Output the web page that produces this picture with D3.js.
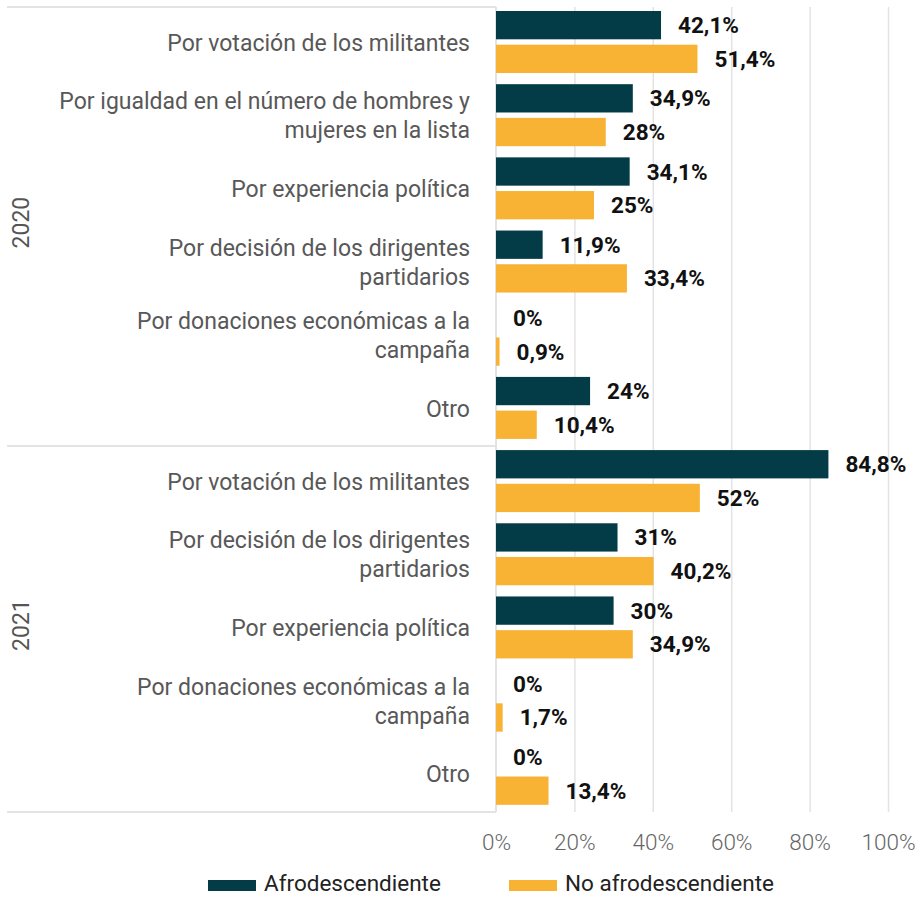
<!DOCTYPE html>
<html>
<head>
<meta charset="utf-8">
<script src="https://cdn.jsdelivr.net/npm/d3@7"></script>
<style>
  body { margin: 0; background: #fff; }
  svg { display: block; font-family: Roboto, "Open Sans", sans-serif; }
</style>
</head>
<body>
<svg id="chart" width="924" height="897"></svg>
<script>
// data
var years = ["2020", "2021"];
var categories2020 = [
  "Por votación de los militantes",
  "Por igualdad en el número de hombres y\nmujeres en la lista",
  "Por experiencia política",
  "Por decisión de los dirigentes\npartidarios",
  "Por donaciones económicas a la\ncampaña",
  "Otro"
];
var categories2021 = [
  "Por votación de los militantes",
  "Por decisión de los dirigentes\npartidarios",
  "Por experiencia política",
  "Por donaciones económicas a la\ncampaña",
  "Otro"
];
var series = ["Afrodescendiente", "No afrodescendiente"];
var afro2020 = [42.1, 34.9, 34.1, 11.9, 0, 24];
var noAfro2020 = [51.4, 28, 25, 33.4, 0.9, 10.4];
var afro2021 = [84.8, 31, 30, 0, 0];
var noAfro2021 = [52, 40.2, 34.9, 1.7, 13.4];
var xTicks = [0, 20, 40, 60, 80, 100];

var colors = { "Afrodescendiente": "#033c47", "No afrodescendiente": "#f8b334" };

// build rows
var rows = [];
categories2020.forEach(function(c, i) {
  rows.push({ year: "2020", label: c, key: "2020|" + i, values: [afro2020[i], noAfro2020[i]] });
});
categories2021.forEach(function(c, i) {
  rows.push({ year: "2021", label: c, key: "2021|" + i, values: [afro2021[i], noAfro2021[i]] });
});

var svg = d3.select("#chart");
var plotTop = 7, plotBottom = 812, plotLeft = 496, plotRight = 888;

var x = d3.scaleLinear().domain([0, 100]).range([plotLeft, plotRight]);
var y = d3.scaleBand().domain(rows.map(function(d) { return d.key; })).range([plotTop, plotBottom]);
var yInner = d3.scaleBand().domain(series).range([4, 66]).paddingInner(0.16);

// gridlines
svg.append("g")
  .attr("transform", "translate(0," + plotBottom + ")")
  .call(d3.axisBottom(x).tickValues(xTicks.slice(1)).tickSize(-(plotBottom - plotTop)).tickFormat(""))
  .call(function(g) { g.select(".domain").remove(); })
  .call(function(g) { g.selectAll("line").attr("stroke", "#e3e3e3").attr("stroke-width", 1.5); });

// year separators
var yearBounds = years.map(function(yr) {
  var ks = rows.filter(function(d) { return d.year === yr; });
  return { year: yr, y0: y(ks[0].key), y1: y(ks[ks.length - 1].key) + y.bandwidth() };
});
var hl = [plotTop].concat(yearBounds.map(function(b) { return b.y1; }));
svg.selectAll(".sep").data(hl).enter().append("line")
  .attr("x1", 7).attr("x2", plotLeft)
  .attr("y1", function(d) { return d; }).attr("y2", function(d) { return d; })
  .attr("stroke", "#e3e3e3").attr("stroke-width", 2);
svg.append("line")
  .attr("x1", plotLeft).attr("x2", plotLeft).attr("y1", plotTop).attr("y2", plotBottom)
  .attr("stroke", "#e3e3e3").attr("stroke-width", 2);

// year labels
svg.selectAll(".year").data(yearBounds).enter().append("text")
  .attr("transform", function(d) { return "translate(29," + ((d.y0 + d.y1) / 2 - 4) + ") rotate(-90)"; })
  .attr("text-anchor", "middle")
  .attr("font-size", 23)
  .attr("fill", "#555")
  .text(function(d) { return d.year; });

// category labels
var lab = svg.selectAll(".cat").data(rows).enter().append("text")
  .attr("text-anchor", "end")
  .attr("font-size", 23)
  .attr("fill", "#585858");
lab.each(function(d) {
  var lines = d.label.split("\n");
  var cy = y(d.key) + y.bandwidth() / 2 - 1;
  var lh = 29;
  var start = cy - (lines.length - 1) * lh / 2 + 8;
  d3.select(this).selectAll("tspan").data(lines).enter().append("tspan")
    .attr("x", 470)
    .attr("y", function(l, i) { return start + i * lh; })
    .text(function(l) { return l; });
});

// bars
var grp = svg.selectAll(".row").data(rows).enter().append("g")
  .attr("transform", function(d) { return "translate(0," + y(d.key) + ")"; });

grp.selectAll("rect").data(function(d) {
  return series.map(function(s, i) { return { s: s, v: d.values[i] }; });
}).enter().append("rect")
  .attr("x", x(0))
  .attr("y", function(d) { return yInner(d.s); })
  .attr("width", function(d) { return x(d.v) - x(0); })
  .attr("height", yInner.bandwidth())
  .attr("fill", function(d) { return colors[d.s]; });

grp.selectAll(".val").data(function(d) {
  return series.map(function(s, i) { return { s: s, v: d.values[i] }; });
}).enter().append("text")
  .attr("x", function(d) { return x(d.v) + 17; })
  .attr("y", function(d) { return yInner(d.s) + yInner.bandwidth() / 2 + 8; })
  .attr("font-size", 22.5)
  .attr("font-weight", "bold")
  .attr("fill", "#111")
  .text(function(d) { return String(d.v).replace(".", ",") + "%"; });

// x axis labels
svg.append("g")
  .attr("transform", "translate(0," + plotBottom + ")")
  .call(d3.axisBottom(x).tickValues(xTicks).tickSize(0).tickPadding(22).tickFormat(function(d) { return d + "%"; }))
  .call(function(g) { g.select(".domain").remove(); })
  .call(function(g) {
    g.selectAll("text").attr("font-size", 22.5).attr("font-weight", 300)
      .attr("fill", "#666").attr("font-family", "Roboto, sans-serif");
  });

// legend
var legendX = [208, 509];
var leg = svg.selectAll(".leg").data(series).enter().append("g")
  .attr("transform", function(d, i) { return "translate(" + legendX[i] + ",880)"; });
leg.append("rect").attr("width", 48).attr("height", 11)
  .attr("fill", function(d) { return colors[d]; });
leg.append("text").attr("x", 56).attr("y", 11)
  .attr("font-size", 22.5).attr("fill", "#222")
  .text(function(d) { return d; });
</script>
</body>
</html>
